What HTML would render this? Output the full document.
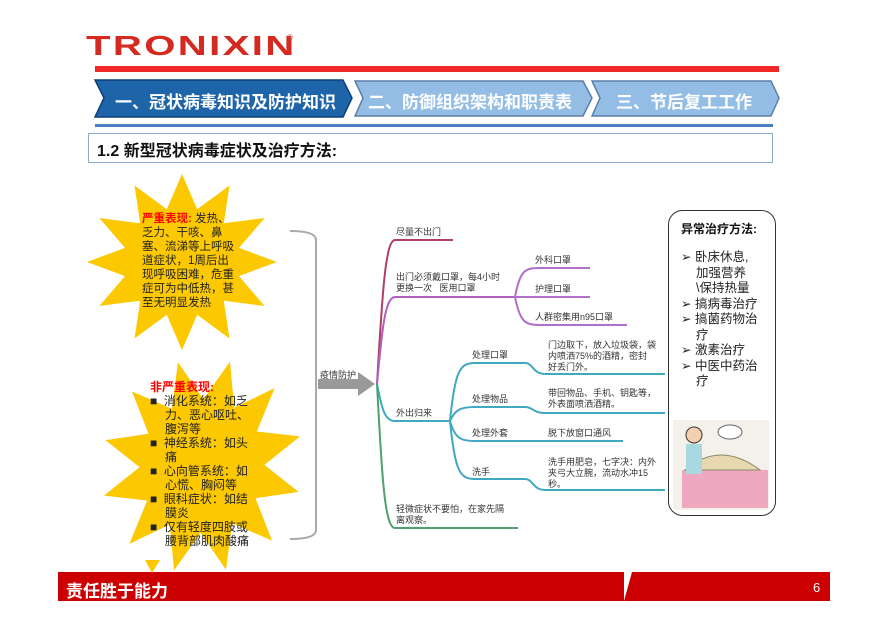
<!DOCTYPE html>
<html><head><meta charset="utf-8"><style>
body{margin:0;width:894px;height:630px;background:#fff;position:relative;overflow:hidden;font-family:"Liberation Sans","Noto Sans CJK SC",sans-serif}
.a{position:absolute}
.t{position:absolute;font-size:9px;color:#333;line-height:11px;white-space:nowrap}
</style></head><body>
<div class="a" style="left:86px;top:27px;font-size:34px;font-weight:bold;color:#d42a20;letter-spacing:2px;font-family:'Liberation Sans',sans-serif;transform:scale(1.18,0.82);transform-origin:0 50%;">TRONIXIN</div>
<div class="a" style="left:287px;top:33px;font-size:8px;color:#d04040">®</div>
<div class="a" style="left:95px;top:66px;width:684px;height:6px;background:#f02828"></div>
<svg class="a" style="left:0;top:0" width="894" height="630">
<polygon points="95,80 343,80 352,98 343,117 95,117 104,98" fill="#1e64a8" stroke="#0d3f78" stroke-width="1.5"/>
<polygon points="355,81 583,81 592,98 583,116 355,116 363,98" fill="#94bde6" stroke="#5a7ea8" stroke-width="1.5"/>
<polygon points="592,81 771,81 779,98 771,116 592,116 600,98" fill="#94bde6" stroke="#5a7ea8" stroke-width="1.5"/>
<rect x="95" y="124" width="678" height="3" fill="#4a7fbf"/>
<rect x="88.5" y="133.5" width="684" height="29" fill="#fff" stroke="#90a8d0"/>
<g fill="#fcc800">
<polygon transform="translate(182,262) scale(0.95,0.88)" points="0,-100 16,-60 50,-87 44,-44 87,-50 60,-16 100,0 60,16 87,50 44,44 50,87 16,60 0,100 -16,60 -50,87 -44,44 -87,50 -60,16 -100,0 -60,-16 -87,-50 -44,-44 -50,-87 -16,-60"/>
<polygon transform="translate(202,466) rotate(15) scale(1.0,1.08)" points="0,-100 16,-60 50,-87 44,-44 87,-50 60,-16 100,0 60,16 87,50 44,44 50,87 16,60 0,100 -16,60 -50,87 -44,44 -87,50 -60,16 -100,0 -60,-16 -87,-50 -44,-44 -50,-87 -16,-60"/>
</g>
<path d="M290,231 Q316,231 316,240 L316,530 Q316,539 290,539" fill="none" stroke="#aaa" stroke-width="2"/>
<polygon points="318,379 358,379 358,372 375,384 358,396 358,389 318,389" fill="#999"/>
<g fill="none" stroke-width="2">
<path d="M377,384 C382,300 385,240 395,240 L453,240" stroke="#b04060"/>
<path d="M377,384 C382,330 385,297 395,297 L515,297" stroke="#b060c0"/>
<path d="M515,297 C520,270 525,268 540,268 L590,268 M515,297 L590,297 M515,297 C520,322 525,325 540,325 L627,325" stroke="#b070c8"/>
<path d="M377,384 C382,410 385,421 395,421 L450,421" stroke="#40a8c0"/>
<path d="M450,421 C455,370 460,363 475,363 L525,363 C533,363 533,374 545,374 L665,374 M450,421 C455,410 460,407 475,407 L525,407 C533,407 533,413 545,413 L665,413 M450,421 C455,438 460,441 475,441 L623,441 M450,421 C455,472 460,479 475,479 L525,479 C533,479 533,490 545,490 L665,490" stroke="#40a8c0"/>
<path d="M377,384 C382,480 385,528 395,528 L518,528" stroke="#50a070"/>
</g>
<rect x="668.5" y="210.5" width="107" height="305" rx="14" fill="#fff" stroke="#333"/>
<rect x="673" y="420" width="96" height="90" fill="#f4f0ea"/>
<rect x="682" y="470" width="86" height="38" fill="#f0a8c0"/>
<path d="M685,470 Q720,440 760,470 Z" fill="#e8d8b0" stroke="#886"/>
<circle cx="694" cy="435" r="8" fill="#f5d0b0" stroke="#333"/>
<rect x="686" y="444" width="16" height="30" fill="#a8d8e0"/>
<ellipse cx="730" cy="432" rx="12" ry="7" fill="#fff" stroke="#666"/>
<rect x="58" y="572" width="772" height="29" fill="#cc0000"/>
<polygon points="624,572 632,572 624,601" fill="#fff"/>
<polygon points="145,560 160,560 152,573" fill="#fcc800"/>
</svg>
<div class="a" style="left:115px;top:88px;font-size:17px;font-weight:bold;color:#fff">一、冠状病毒知识及防护知识</div>
<div class="a" style="left:368px;top:88px;font-size:17px;font-weight:bold;color:#fff">二、防御组织架构和职责表</div>
<div class="a" style="left:616px;top:88px;font-size:17px;font-weight:bold;color:#fff">三、节后复工工作</div>
<div class="a" style="left:97px;top:137px;font-size:16px;font-weight:bold;color:#111">1.2 新型冠状病毒症状及治疗方法:</div>
<div class="a" style="left:142px;top:212px;width:95px;font-size:11.5px;line-height:14px;color:#222"><span style="color:#f00;font-weight:bold">严重表现:</span> 发热、乏力、干咳、鼻塞、流涕等上呼吸道症状，1周后出现呼吸困难，危重症可为中低热，甚至无明显发热</div>
<div class="a" style="left:150px;top:380px;width:100px;font-size:12px;line-height:14px;color:#222">
<div style="color:#f00;font-weight:bold">非严重表现:</div>
<div style="padding-left:15px;text-indent:-15px">■&nbsp; 消化系统：如乏力、恶心呕吐、腹泻等</div>
<div style="padding-left:15px;text-indent:-15px">■&nbsp; 神经系统：如头痛</div>
<div style="padding-left:15px;text-indent:-15px">■&nbsp; 心向管系统：如心慌、胸闷等</div>
<div style="padding-left:15px;text-indent:-15px">■&nbsp; 眼科症状：如结膜炎</div>
<div style="padding-left:15px;text-indent:-15px">■&nbsp; 仅有轻度四肢或腰背部肌肉酸痛</div>
</div>
<div class="t" style="left:320px;top:370px">疫情防护</div>
<div class="t" style="left:396px;top:227px">尽量不出门</div>
<div class="t" style="left:396px;top:272px">出门必须戴口罩，每4小时<br>更换一次&nbsp;&nbsp; 医用口罩</div>
<div class="t" style="left:535px;top:255px">外科口罩</div>
<div class="t" style="left:535px;top:284px">护理口罩</div>
<div class="t" style="left:535px;top:312px">人群密集用n95口罩</div>
<div class="t" style="left:396px;top:408px">外出归来</div>
<div class="t" style="left:472px;top:350px">处理口罩</div>
<div class="t" style="left:472px;top:394px">处理物品</div>
<div class="t" style="left:472px;top:428px">处理外套</div>
<div class="t" style="left:472px;top:467px">洗手</div>
<div class="t" style="left:548px;top:340px">门边取下，放入垃圾袋，袋<br>内喷洒75%的酒精，密封<br>好丢门外。</div>
<div class="t" style="left:548px;top:388px">带回物品、手机、钥匙等，<br>外表面喷洒酒精。</div>
<div class="t" style="left:548px;top:428px">脱下放窗口通风</div>
<div class="t" style="left:548px;top:457px">洗手用肥皂，七字决：内外<br>夹弓大立腕，流动水冲15<br>秒。</div>
<div class="t" style="left:396px;top:504px">轻微症状不要怕，在家先隔<br>离观察。</div>
<div class="a" style="left:681px;top:220px;font-size:12px;font-weight:bold;color:#111">异常治疗方法:</div>
<div class="a" style="left:681px;top:250px;width:78px;font-size:12.5px;line-height:15.5px;color:#222">
<div style="padding-left:15px;text-indent:-15px">➢ 卧床休息,加强营养\保持热量</div>
<div style="padding-left:15px;text-indent:-15px">➢ 搞病毒治疗</div>
<div style="padding-left:15px;text-indent:-15px">➢ 搞菌药物治疗</div>
<div style="padding-left:15px;text-indent:-15px">➢ 激素治疗</div>
<div style="padding-left:15px;text-indent:-15px">➢ 中医中药治疗</div>
</div>
<div class="a" style="left:66px;top:577px;font-size:17px;font-weight:bold;color:#fff">责任胜于能力</div>
<div class="a" style="left:813px;top:580px;font-size:13px;color:#fff">6</div>
</body></html>
